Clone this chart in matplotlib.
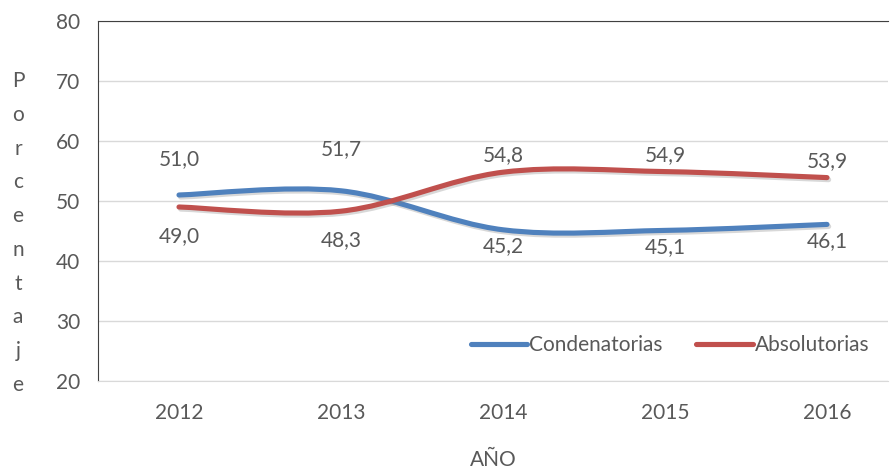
import numpy as np
import matplotlib
matplotlib.use('Agg')
import matplotlib.pyplot as plt
from matplotlib.path import Path
from matplotlib.patches import PathPatch
from matplotlib.lines import Line2D
import matplotlib.patheffects as pe

years = ['2012', '2013', '2014', '2015', '2016']
condenatorias = [51.0, 51.7, 45.2, 45.1, 46.1]
absolutorias = [49.0, 48.3, 54.8, 54.9, 53.9]

blue = '#4F81BD'
red = '#C0504D'
txt = '#595959'
font = 'Lato'
fs = 15


def smooth_path(xs, ys):
    # excel-like smoothed line (catmull-rom as cubic bezier)
    pts = np.column_stack([xs, ys]).astype(float)
    ext = np.vstack([pts[0], pts, pts[-1]])
    verts = [tuple(pts[0])]
    codes = [Path.MOVETO]
    for i in range(1, len(ext) - 2):
        p0, p1, p2, p3 = ext[i - 1], ext[i], ext[i + 1], ext[i + 2]
        c1 = p1 + (p2 - p0) / 6.
        c2 = p2 - (p3 - p1) / 6.
        verts += [tuple(c1), tuple(c2), tuple(p2)]
        codes += [Path.CURVE4] * 3
    return Path(verts, codes)


fig = plt.figure(figsize=(8.9, 4.71), dpi=100, facecolor='white')
ax = fig.add_axes([98 / 890., 1 - 381 / 471., 790 / 890., 360 / 471.])

x = np.arange(len(years))
shadow = [pe.SimpleLineShadow(offset=(1.2, -1.5), shadow_color='gray', alpha=0.3), pe.Normal()]
for vals, col in [(condenatorias, blue), (absolutorias, red)]:
    patch = PathPatch(smooth_path(x, vals), fill=False, edgecolor=col, lw=3.7,
                      capstyle='round', zorder=3, path_effects=shadow)
    ax.add_patch(patch)

# data labels (offsets in points, above/below the line)
off_c = [26, 30, -12, -12, -12]
off_a = [-21, -21, 12, 12, 12]
for vals, offs in [(condenatorias, off_c), (absolutorias, off_a)]:
    for xi, v, o in zip(x, vals, offs):
        ax.annotate(('%.1f' % v).replace('.', ','), (xi, v), xytext=(0, o),
                    textcoords='offset points', ha='center', va='center',
                    fontsize=fs, color=txt, family=font)

ax.set_xlim(-0.5, -0.5 + 790 / 162.)
ax.set_ylim(20, 80)
ax.set_yticks(np.arange(20, 81, 10))
ax.set_xticks(x)
ax.set_xticklabels(years)
ax.grid(axis='y', color='#D9D9D9', lw=1)
ax.set_axisbelow(True)
ax.tick_params(length=0, labelsize=fs, colors=txt, pad=13)
ax.tick_params(axis='x', pad=16)
for lab in ax.get_xticklabels() + ax.get_yticklabels():
    lab.set_family(font)
ax.spines['right'].set_visible(False)
ax.spines['bottom'].set_color('#D9D9D9')
ax.spines['left'].set_color('#404040')
ax.spines['top'].set_color('#404040')

handles = [Line2D([], [], color=blue, lw=3.7, solid_capstyle='round'),
           Line2D([], [], color=red, lw=3.7, solid_capstyle='round')]
ax.legend(handles, ['Condenatorias', 'Absolutorias'], loc='lower right', ncol=2,
          frameon=False, prop={'family': font, 'size': fs}, labelcolor=txt,
          handlelength=2.7, handletextpad=0.1, columnspacing=1.6,
          bbox_to_anchor=(1.0, 0.02))

fig.text(493 / 890., 1 - 460 / 471., 'AÑO', ha='center', va='center',
         fontsize=fs, color=txt, family=font)
fig.text(18 / 890., 1 - 233 / 471., '\n'.join('Porcentaje'), ha='center', va='center',
         fontsize=fs, color=txt, family=font, linespacing=1.86)

fig.savefig('out.png', dpi=100, facecolor='white')
